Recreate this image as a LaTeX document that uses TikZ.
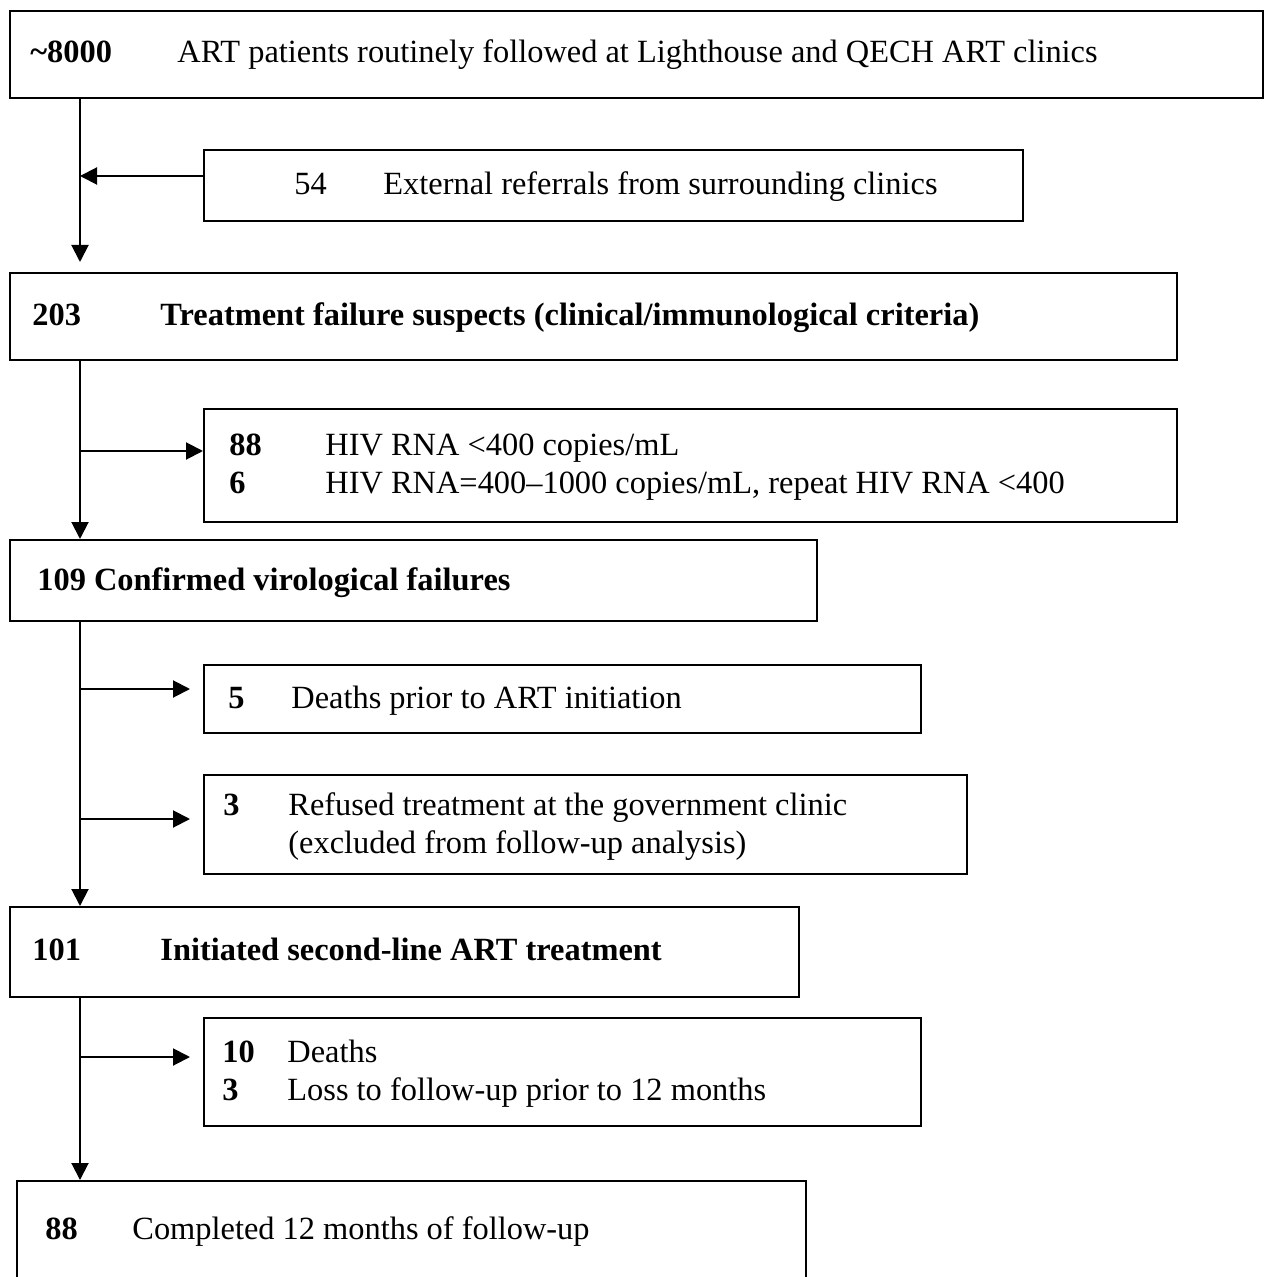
\documentclass[tikz,border=0pt]{standalone}
\usepackage{fontspec}
\setmainfont{Liberation Serif}
\usetikzlibrary{arrows.meta}

\tikzset{
  box/.style={draw, line width=1pt, inner sep=0pt, anchor=north west},
  txt/.style={anchor=base west, inner sep=0pt, font=\fontsize{16.2}{19}\selectfont},
  arr/.style={-{Triangle[length=8.5pt,width=8.5pt]}, line width=1pt},
}

\begin{document}
\begin{tikzpicture}[x=0.5pt, y=-0.5pt]
    \useasboundingbox (0,0) rectangle (1269,1277);

    % Boxes
    \node[box, minimum width=626.5pt, minimum height=43.5pt] (start) at (9,10) {};
    \node[box, minimum width=409.5pt, minimum height=35.5pt] (referral) at (203,149) {};
    \node[box, minimum width=583.5pt, minimum height=43.5pt] (suspects) at (9,272) {};
    \node[box, minimum width=486.5pt, minimum height=56.5pt] (suppressed) at (203,408) {};
    \node[box, minimum width=403.5pt, minimum height=40.5pt] (confirmed) at (9,539) {};
    \node[box, minimum width=358.5pt, minimum height=34pt] (deaths) at (203,664) {};
    \node[box, minimum width=381.5pt, minimum height=49.5pt] (refused) at (203,774) {};
    \node[box, minimum width=394.5pt, minimum height=45pt] (secondline) at (9,906) {};
    \node[box, minimum width=358.5pt, minimum height=54pt] (outcomes) at (203,1017) {};
    \node[box, minimum width=394.5pt, minimum height=70pt] (completed) at (16,1180) {};

    % Texts
    \node[txt] (startN) at (30,63) {\textbf{\textasciitilde 8000}};
    \node[txt] (startT) at (177,63) {ART patients routinely followed at Lighthouse and QECH ART clinics};
    \node[txt] (referralN) at (294,195) {54};
    \node[txt] (referralT) at (383,195) {External referrals from surrounding clinics};
    \node[txt] (suspectsN) at (32,326) {\textbf{203}};
    \node[txt] (suspectsT) at (160,326) {\textbf{Treatment failure suspects (clinical/immunological criteria)}};
    \node[txt] (suppressedN1) at (229,456) {\textbf{88}};
    \node[txt] (suppressedT1) at (325,456) {HIV RNA <400 copies/mL};
    \node[txt] (suppressedN2) at (229,494) {\textbf{6}};
    \node[txt] (suppressedT2) at (325,494) {HIV RNA=400--1000 copies/mL, repeat HIV RNA <400};
    \node[txt] (confirmedT) at (37,590) {\textbf{109 Confirmed virological failures}};
    \node[txt] (deathsN) at (228,708) {\textbf{5}};
    \node[txt] (deathsT) at (291,708) {Deaths prior to ART initiation};
    \node[txt] (refusedN) at (223,815) {\textbf{3}};
    \node[txt] (refusedT1) at (288,815) {Refused treatment at the government clinic};
    \node[txt] (refusedT2) at (288,853) {(excluded from follow-up analysis)};
    \node[txt] (secondlineN) at (32,960) {\textbf{101}};
    \node[txt] (secondlineT) at (160,960) {\textbf{Initiated second-line ART treatment}};
    \node[txt] (outcomesN1) at (222,1062) {\textbf{10}};
    \node[txt] (outcomesT1) at (287,1062) {Deaths};
    \node[txt] (outcomesN2) at (222,1100) {\textbf{3}};
    \node[txt] (outcomesT2) at (287,1100) {Loss to follow-up prior to 12 months};
    \node[txt] (completedN) at (45,1239) {\textbf{88}};
    \node[txt] (completedT) at (132,1239) {Completed 12 months of follow-up};

    % Main flow
    \coordinate (spine) at (80,0);
    \draw[arr, shorten >=5pt] (start.south -| spine) -- (suspects.north -| spine);
    \draw[arr] (suspects.south -| spine) -- (confirmed.north -| spine);
    \draw[arr] (confirmed.south -| spine) -- (secondline.north -| spine);
    \draw[arr] (secondline.south -| spine) -- (completed.north -| spine);

    % Side branches
    \coordinate (refin) at ([yshift=4.75pt]referral.west);
    \draw[arr] (refin) -- (refin -| spine);
    \coordinate (suppin) at ([yshift=7.25pt]suppressed.west);
    \draw[arr] (suppin -| spine) -- (suppin);
    \coordinate (deathsin) at ([yshift=5pt]deaths.west);
    \draw[arr, shorten >=6.5pt] (deathsin -| spine) -- (deathsin);
    \coordinate (refusedin) at ([yshift=2.75pt]refused.west);
    \draw[arr, shorten >=6.5pt] (refusedin -| spine) -- (refusedin);
    \coordinate (outcomesin) at ([yshift=7.5pt]outcomes.west);
    \draw[arr, shorten >=6.5pt] (outcomesin -| spine) -- (outcomesin);
\end{tikzpicture}
\end{document}
